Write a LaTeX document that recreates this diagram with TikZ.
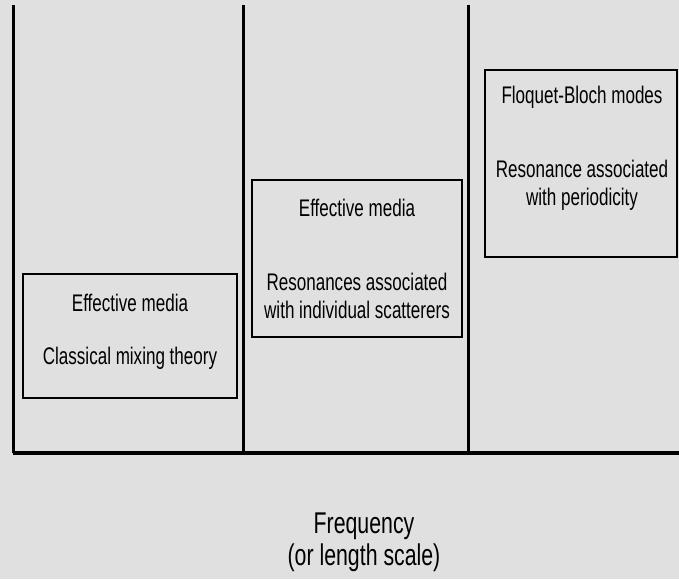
\documentclass[tikz,border=0pt]{standalone}
\usepackage{fontspec}
\setmainfont{Liberation Sans}[FakeStretch=0.71]
\usetikzlibrary{positioning}

\tikzset{
  regime/.style={draw=black, line width=1.8pt, inner sep=0pt},
  caption/.style={font=\fontsize{24}{28}\selectfont, inner sep=0pt},
  axis/.style={line width=3pt},
}

\begin{document}
\begin{tikzpicture}[x=1pt,y=-1pt]
		%%%%% START %%%%%
		
		\fill[black!12] (0,0) rectangle (679,579);
		\useasboundingbox (0,0) rectangle (679,579);
		
		\coordinate (origin) at (13,453);
		\coordinate (far) at (679,453);
		\coordinate (topA) at (13,5);
		\coordinate (topB) at (243,5);
		\coordinate (botB) at (243,453);
		\coordinate (topC) at (468,5);
		\coordinate (botC) at (468,453);
		
		\draw[axis] (topA) -- (origin);
		\draw[axis] (topB) -- (botB);
		\draw[axis] (topC) -- (botC);
		\draw[line width=4pt] (origin) -- (far);
		
		\node[regime, minimum width=214pt, minimum height=124pt] (mixbox) at (130,336) {};
		\node[caption] (mixtop) at (130,303) {Effective media};
		\node[caption] (mixlow) at (130,358) {Classical mixing theory};
		
		\node[regime, minimum width=210pt, minimum height=157pt] (scatbox) at (357,258.5) {};
		\node[caption] (scattop) at (357,208) {Effective media};
		\node[caption, align=center] (scatlow) at (357,296) {Resonances associated\\with individual scatterers};
		
		\node[regime, minimum width=192pt, minimum height=187pt] (blochbox) at (581,163.5) {};
		\node[caption] (blochtop) at (582,97) {Floquet-Bloch modes};
		\node[caption, align=center] (blochlow) at (582,185) {Resonance associated\\with periodicity};
		
		\node[font=\fontsize{30}{32}\selectfont, align=center, inner sep=0pt] (freq) at (364,542) {Frequency\\(or length scale)};
		
		%%%%% END %%%%%
\end{tikzpicture}
\end{document}
